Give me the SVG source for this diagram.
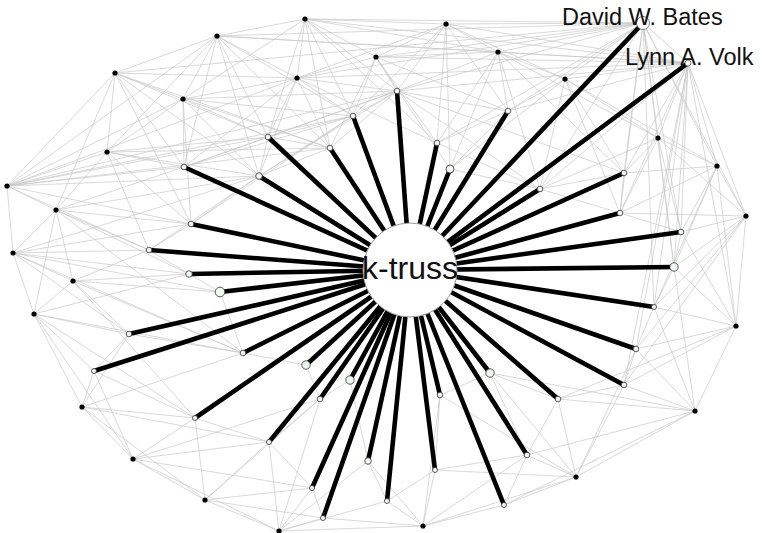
<svg xmlns="http://www.w3.org/2000/svg" width="762" height="533" viewBox="0 0 762 533">
<style>
.e{fill:none;stroke:#c8c8c8;stroke-width:0.7}
.s{stroke:#000;stroke-width:4.6;stroke-linecap:butt}
.b{fill:#000}
.w{fill:#eefaee;stroke:#333;stroke-width:0.8}
.lbl{font-family:"Liberation Sans",Arial,sans-serif;fill:#111}
</style>
<rect width="762" height="533" fill="#fff"/>
<g id="connectors">
<g id="gray-edges">
<path class="e" d="M643 23L305 19M643 23L446 24M643 23L217 36M643 23L498 52M643 23L565 79M643 23L376 57M643 23L397 91M643 23L508 111M643 23L624 173M643 23L658 138M643 23L717 166M643 23L620 213M643 23L681 232M643 23L674 267M643 23L540 189M643 23L688 63M643 23L437 143M643 23L115 73M643 23L297 78M643 23L654 307M643 23L746 216"/>
<path class="e" d="M688 63L446 24M688 63L498 52M688 63L565 79M688 63L305 19M688 63L508 111M688 63L624 173M688 63L658 138M688 63L717 166M688 63L746 216M688 63L620 213M688 63L681 232M688 63L674 267M688 63L654 307M688 63L636 349M688 63L540 189M688 63L376 57M688 63L397 91M688 63L736 326M688 63L624 385M688 63L297 78M688 63L217 36"/>
<path class="e" d="M305 19L446 24M305 19L217 36M305 19L297 78M305 19L376 57M305 19L397 91M305 19L353 116M305 19L330 148M305 19L268 137M305 19L183 99M305 19L498 52M305 19L437 143"/>
<path class="e" d="M446 24L376 57M446 24L498 52M446 24L565 79M446 24L397 91M446 24L437 143M446 24L450 169M446 24L353 116M446 24L508 111M446 24L297 78"/>
<path class="e" d="M217 36L115 73M217 36L183 99M217 36L107 152M217 36L7 186M217 36L184 167M217 36L268 137M217 36L330 148M217 36L353 116M217 36L498 52M217 36L297 78M217 36L259 176"/>
<path class="e" d="M115 73L183 99M115 73L107 152M115 73L7 186M115 73L184 167M115 73L268 137M115 73L259 176M115 73L297 78M115 73L56 210M115 73L191 224M115 73L330 148"/>
<path class="e" d="M297 78L376 57M297 78L353 116M297 78L268 137M297 78L330 148M297 78L259 176M297 78L183 99M297 78L184 167M297 78L397 91M297 78L437 143"/>
<path class="e" d="M376 57L397 91M376 57L353 116M376 57L437 143M376 57L450 169M376 57L330 148M376 57L498 52M376 57L508 111"/>
<path class="e" d="M498 52L565 79M498 52L508 111M498 52L437 143M498 52L450 169M498 52L397 91M498 52L540 189M498 52L624 173M498 52L658 138"/>
<path class="e" d="M565 79L508 111M565 79L624 173M565 79L658 138M565 79L540 189M565 79L620 213M565 79L450 169M565 79L717 166"/>
<path class="e" d="M183 99L268 137M183 99L259 176M183 99L107 152M183 99L184 167M183 99L330 148M183 99L191 224M183 99L353 116M183 99L7 186M183 99L397 91"/>
<path class="e" d="M107 152L184 167M107 152L7 186M107 152L56 210M107 152L259 176M107 152L191 224M107 152L268 137M107 152L149 250M107 152L330 148"/>
<path class="e" d="M658 138L717 166M658 138L624 173M658 138L620 213M658 138L681 232M658 138L540 189M658 138L746 216M658 138L674 267"/>
<path class="e" d="M717 166L746 216M717 166L681 232M717 166L674 267M717 166L620 213M717 166L654 307M717 166L736 326M717 166L624 173"/>
<path class="e" d="M7 186L56 210M7 186L13 253M7 186L184 167M7 186L259 176M7 186L268 137M7 186L330 148M7 186L353 116M7 186L191 224M7 186L149 250M7 186L397 91M7 186L297 78"/>
<path class="e" d="M56 210L13 253M56 210L73 281M56 210L191 224M56 210L149 250M56 210L189 274M56 210L184 167M56 210L259 176M56 210L243 353M56 210L34 314"/>
<path class="e" d="M13 253L73 281M13 253L34 314M13 253L149 250M13 253L189 274M13 253L220 292M13 253L191 224M13 253L243 353M13 253L129 334M13 253L259 176"/>
<path class="e" d="M73 281L34 314M73 281L149 250M73 281L129 334M73 281L189 274M73 281L243 353M73 281L195 418M73 281L220 292"/>
<path class="e" d="M34 314L129 334M34 314L94 371M34 314L82 407M34 314L243 353M34 314L189 274M34 314L133 459M34 314L195 418"/>
<path class="e" d="M746 216L736 326M746 216L681 232M746 216L674 267M746 216L654 307M746 216L620 213M746 216L636 349M746 216L624 385"/>
<path class="e" d="M736 326L695 411M736 326L654 307M736 326L636 349M736 326L624 385M736 326L674 267M736 326L558 399M736 326L681 232"/>
<path class="e" d="M82 407L94 371M82 407L133 459M82 407L195 418M82 407L129 334M82 407L205 500M82 407L269 442M82 407L243 353"/>
<path class="e" d="M133 459L205 500M133 459L195 418M133 459L269 442M133 459L94 371M133 459L312 488M133 459L320 399M133 459L279 531"/>
<path class="e" d="M205 500L279 531M205 500L269 442M205 500L312 488M205 500L323 518M205 500L195 418M205 500L320 399"/>
<path class="e" d="M279 531L323 518M279 531L312 488M279 531L269 442M279 531L387 501M279 531L423 526M279 531L368 461M279 531L320 399"/>
<path class="e" d="M423 526L387 501M423 526L435 470M423 526L323 518M423 526L504 505M423 526L368 461M423 526L527 455M423 526L576 477M423 526L440 395"/>
<path class="e" d="M576 477L527 455M576 477L504 505M576 477L558 399M576 477L624 385M576 477L435 470M576 477L695 411M576 477L490 373M576 477L636 349M576 477L440 395"/>
<path class="e" d="M695 411L624 385M695 411L636 349M695 411L558 399M695 411L527 455M695 411L654 307M695 411L674 267M695 411L504 505M695 411L490 373"/>
<path class="e" d="M397 91L353 116M397 91L268 137M397 91L330 148M397 91L259 176M397 91L184 167M397 91L540 189M397 91L624 173M397 91L508 111M353 116L268 137M353 116L259 176M353 116L184 167M353 116L191 224M330 148L268 137M330 148L259 176M437 143L508 111M437 143L540 189M450 169L508 111M450 169L540 189M268 137L184 167M268 137L259 176M259 176L191 224M259 176L149 250"/>
<path class="e" d="M624 173L540 189M624 173L620 213M540 189L620 213M620 213L681 232M681 232L674 267M674 267L654 307M654 307L636 349M636 349L624 385M624 385L558 399M490 373L558 399M490 373L527 455M558 399L527 455M504 505L527 455M435 470L527 455M440 395L490 373M440 395L435 470"/>
<path class="e" d="M191 224L149 250M149 250L189 274M189 274L220 292M220 292L243 353M129 334L94 371M243 353L306 365M94 371L195 418M195 418L269 442M306 365L320 399M350 380L320 399M320 399L269 442M269 442L312 488M312 488L323 518M368 461L387 501M387 501L435 470M368 461L350 380M129 334L243 353"/>
</g>
<g id="spokes">
<line class="s" x1="410" y1="270" x2="397" y2="91"/>
<line class="s" x1="410" y1="270" x2="353" y2="116"/>
<line class="s" x1="410" y1="270" x2="268" y2="137"/>
<line class="s" x1="410" y1="270" x2="330" y2="148"/>
<line class="s" x1="410" y1="270" x2="437" y2="143"/>
<line class="s" x1="410" y1="270" x2="450" y2="169"/>
<line class="s" x1="410" y1="270" x2="259" y2="176"/>
<line class="s" x1="410" y1="270" x2="508" y2="111"/>
<line class="s" x1="410" y1="270" x2="184" y2="167"/>
<line class="s" x1="410" y1="270" x2="643" y2="23"/>
<line class="s" x1="410" y1="270" x2="688" y2="63"/>
<line class="s" x1="410" y1="270" x2="624" y2="173"/>
<line class="s" x1="410" y1="270" x2="540" y2="189"/>
<line class="s" x1="410" y1="270" x2="620" y2="213"/>
<line class="s" x1="410" y1="270" x2="681" y2="232"/>
<line class="s" x1="410" y1="270" x2="674" y2="267"/>
<line class="s" x1="410" y1="270" x2="654" y2="307"/>
<line class="s" x1="410" y1="270" x2="636" y2="349"/>
<line class="s" x1="410" y1="270" x2="191" y2="224"/>
<line class="s" x1="410" y1="270" x2="149" y2="250"/>
<line class="s" x1="410" y1="270" x2="189" y2="274"/>
<line class="s" x1="410" y1="270" x2="220" y2="292"/>
<line class="s" x1="410" y1="270" x2="129" y2="334"/>
<line class="s" x1="410" y1="270" x2="243" y2="353"/>
<line class="s" x1="410" y1="270" x2="94" y2="371"/>
<line class="s" x1="410" y1="270" x2="195" y2="418"/>
<line class="s" x1="410" y1="270" x2="306" y2="365"/>
<line class="s" x1="410" y1="270" x2="350" y2="380"/>
<line class="s" x1="410" y1="270" x2="320" y2="399"/>
<line class="s" x1="410" y1="270" x2="269" y2="442"/>
<line class="s" x1="410" y1="270" x2="312" y2="488"/>
<line class="s" x1="410" y1="270" x2="323" y2="518"/>
<line class="s" x1="410" y1="270" x2="368" y2="461"/>
<line class="s" x1="410" y1="270" x2="387" y2="501"/>
<line class="s" x1="410" y1="270" x2="440" y2="395"/>
<line class="s" x1="410" y1="270" x2="435" y2="470"/>
<line class="s" x1="410" y1="270" x2="490" y2="373"/>
<line class="s" x1="410" y1="270" x2="504" y2="505"/>
<line class="s" x1="410" y1="270" x2="558" y2="399"/>
<line class="s" x1="410" y1="270" x2="624" y2="385"/>
<line class="s" x1="410" y1="270" x2="527" y2="455"/>
</g>
</g>
<g id="ktruss">
<circle cx="410" cy="270" r="47" fill="#fff" stroke="#999" stroke-width="1"/>
<text class="lbl" x="410" y="279" font-size="32" text-anchor="middle">k-truss</text>
</g>
<g id="outer-nodes">
<g id="b1"><circle class="b" cx="305" cy="19" r="2.6"/></g>
<g id="b2"><circle class="b" cx="446" cy="24" r="2.6"/></g>
<g id="b3"><circle class="b" cx="217" cy="36" r="2.6"/></g>
<g id="b4"><circle class="b" cx="115" cy="73" r="2.6"/></g>
<g id="b5"><circle class="b" cx="297" cy="78" r="2.6"/></g>
<g id="b6"><circle class="b" cx="376" cy="57" r="2.6"/></g>
<g id="b7"><circle class="b" cx="498" cy="52" r="2.6"/></g>
<g id="b8"><circle class="b" cx="565" cy="79" r="2.6"/></g>
<g id="b9"><circle class="b" cx="183" cy="99" r="2.6"/></g>
<g id="b10"><circle class="b" cx="107" cy="152" r="2.6"/></g>
<g id="b11"><circle class="b" cx="658" cy="138" r="2.6"/></g>
<g id="b12"><circle class="b" cx="717" cy="166" r="2.6"/></g>
<g id="b13"><circle class="b" cx="7" cy="186" r="2.6"/></g>
<g id="b14"><circle class="b" cx="56" cy="210" r="2.6"/></g>
<g id="b15"><circle class="b" cx="13" cy="253" r="2.6"/></g>
<g id="b16"><circle class="b" cx="73" cy="281" r="2.6"/></g>
<g id="b17"><circle class="b" cx="34" cy="314" r="2.6"/></g>
<g id="b18"><circle class="b" cx="746" cy="216" r="2.6"/></g>
<g id="b19"><circle class="b" cx="736" cy="326" r="2.6"/></g>
<g id="b20"><circle class="b" cx="82" cy="407" r="2.6"/></g>
<g id="b21"><circle class="b" cx="133" cy="459" r="2.6"/></g>
<g id="b22"><circle class="b" cx="205" cy="500" r="2.6"/></g>
<g id="b23"><circle class="b" cx="279" cy="531" r="2.6"/></g>
<g id="b24"><circle class="b" cx="423" cy="526" r="2.6"/></g>
<g id="b25"><circle class="b" cx="576" cy="477" r="2.6"/></g>
<g id="b26"><circle class="b" cx="695" cy="411" r="2.6"/></g>
</g>
<g id="truss-nodes">
<g id="w1"><circle class="w" cx="397" cy="91" r="2.8"/></g>
<g id="w2"><circle class="w" cx="353" cy="116" r="2.8"/></g>
<g id="w3"><circle class="w" cx="268" cy="137" r="2.8"/></g>
<g id="w4"><circle class="w" cx="330" cy="148" r="2.8"/></g>
<g id="w5"><circle class="w" cx="437" cy="143" r="2.8"/></g>
<g id="w6"><circle class="w" cx="450" cy="169" r="4"/></g>
<g id="w7"><circle class="w" cx="259" cy="176" r="3.3"/></g>
<g id="w8"><circle class="w" cx="508" cy="111" r="2.8"/></g>
<g id="w9"><circle class="w" cx="184" cy="167" r="2.8"/></g>
<g id="w12"><circle class="w" cx="624" cy="173" r="2.8"/></g>
<g id="w13"><circle class="w" cx="540" cy="189" r="2.8"/></g>
<g id="w14"><circle class="w" cx="620" cy="213" r="2.8"/></g>
<g id="w15"><circle class="w" cx="681" cy="232" r="2.8"/></g>
<g id="w16"><circle class="w" cx="674" cy="267" r="4.2"/></g>
<g id="w17"><circle class="w" cx="654" cy="307" r="2.5"/></g>
<g id="w18"><circle class="w" cx="636" cy="349" r="2.8"/></g>
<g id="w19"><circle class="w" cx="191" cy="224" r="2.8"/></g>
<g id="w20"><circle class="w" cx="149" cy="250" r="2.8"/></g>
<g id="w21"><circle class="w" cx="189" cy="274" r="3.3"/></g>
<g id="w22"><circle class="w" cx="220" cy="292" r="4.8"/></g>
<g id="w23"><circle class="w" cx="129" cy="334" r="2.8"/></g>
<g id="w24"><circle class="w" cx="243" cy="353" r="2.8"/></g>
<g id="w25"><circle class="w" cx="94" cy="371" r="2.5"/></g>
<g id="w26"><circle class="w" cx="195" cy="418" r="2.5"/></g>
<g id="w27"><circle class="w" cx="306" cy="365" r="4.2"/></g>
<g id="w28"><circle class="w" cx="350" cy="380" r="4.2"/></g>
<g id="w29"><circle class="w" cx="320" cy="399" r="2.8"/></g>
<g id="w30"><circle class="w" cx="269" cy="442" r="2.5"/></g>
<g id="w31"><circle class="w" cx="312" cy="488" r="2.5"/></g>
<g id="w32"><circle class="w" cx="323" cy="518" r="2.5"/></g>
<g id="w33"><circle class="w" cx="368" cy="461" r="3.3"/></g>
<g id="w34"><circle class="w" cx="387" cy="501" r="2.5"/></g>
<g id="w35"><circle class="w" cx="440" cy="395" r="2.8"/></g>
<g id="w36"><circle class="w" cx="435" cy="470" r="2.5"/></g>
<g id="w37"><circle class="w" cx="490" cy="373" r="4.2"/></g>
<g id="w38"><circle class="w" cx="504" cy="505" r="2.5"/></g>
<g id="w39"><circle class="w" cx="558" cy="399" r="2.8"/></g>
<g id="w40"><circle class="w" cx="624" cy="385" r="2.8"/></g>
<g id="w41"><circle class="w" cx="527" cy="455" r="2.8"/></g>
<g id="david-bates"><circle cx="643" cy="23" r="6.5" fill="#fff" stroke="#666" stroke-width="0.8"/><text class="lbl" x="562" y="25" font-size="23.5">David W. Bates</text></g>
<g id="lynn-volk"><circle cx="688" cy="63" r="3" fill="#fff" stroke="#666" stroke-width="0.8"/><text class="lbl" x="625" y="65" font-size="23.5">Lynn A. Volk</text></g>
</g>
</svg>
